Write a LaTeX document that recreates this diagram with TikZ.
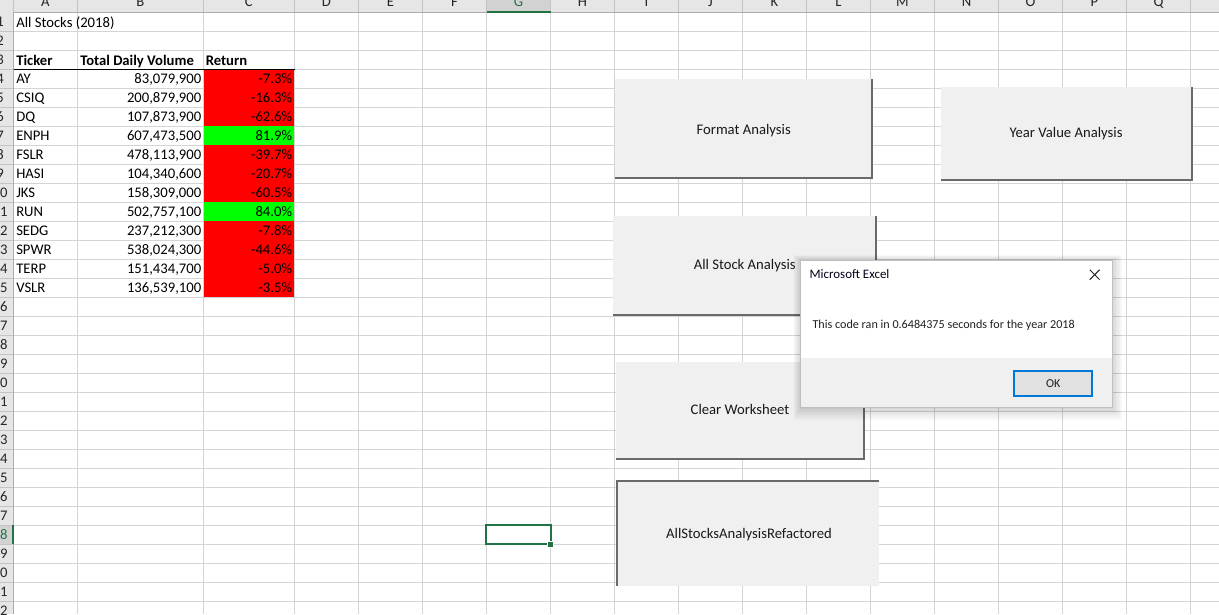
\documentclass[tikz,border=0pt]{standalone}
\usepackage{fontspec}
\setmainfont{Carlito}
\definecolor{gridc}{HTML}{D4D4D4}
\definecolor{hdrbg}{HTML}{E6E6E6}
\definecolor{hdrsel}{HTML}{D2D2D2}
\definecolor{hdrline}{HTML}{ABABAB}
\definecolor{xlgreen}{HTML}{217346}
\definecolor{btnbg}{HTML}{F0F0F0}
\definecolor{btnsh}{HTML}{6A6A6A}
\definecolor{okblue}{HTML}{0078D7}
\definecolor{okfill}{HTML}{E1E1E1}
\definecolor{negred}{HTML}{FF0000}
\definecolor{posgreen}{HTML}{00FF00}
\definecolor{dlgtext}{HTML}{202020}
\tikzset{
  celltxt/.style={inner sep=0pt, font=\fontsize{11}{13}\selectfont, text=black},
  lefttxt/.style={celltxt, anchor=base west},
  righttxt/.style={celltxt, anchor=base east},
  hdrtxt/.style={celltxt, anchor=base, text=black!85},
  btntxt/.style={celltxt, anchor=base, text=black!90},
  gridline/.style={draw=gridc, line width=0.75pt},
  btnshadow/.style={draw=btnsh, line width=1.5pt},
  dlgtxt/.style={inner sep=0pt, anchor=base west, text=dlgtext, font=\fontsize{9.1}{11}\selectfont},
}
\begin{document}
\begin{tikzpicture}[x=0.75pt,y=-0.75pt]
\useasboundingbox (0,0) rectangle (1219,614);
\clip (0,0) rectangle (1219,614);
\fill[white] (0,0) rectangle (1219,614);
% grid lines
\foreach \gx in {77.3,203.3,294.5,358.5,422.5,...,1254.5}
  \draw[gridline] (\gx,12.3) -- (\gx,614);
\foreach \n in {1,...,32}
  \draw[gridline] (13.3,12.3+19*\n) -- (1219,12.3+19*\n);
% colored return cells
\foreach \r/\c in {4/negred,5/negred,6/negred,7/posgreen,8/negred,9/negred,10/negred,11/posgreen,12/negred,13/negred,14/negred,15/negred}
  \fill[\c] (203.8,12.3+19*\r-19.5) rectangle (294.1,12.3+19*\r-0.3);
% header border under row 3
\draw[black, line width=0.75pt] (13.3,69.3) -- (294.5,69.3);
% texts
\node[lefttxt] (title) at (16,27) {All Stocks (2018)};
\node[lefttxt, font=\fontsize{11}{13}\selectfont\bfseries] (hA) at (16,65) {Ticker};
\node[lefttxt, font=\fontsize{11}{13}\selectfont\bfseries] (hB) at (80,65) {Total Daily Volume};
\node[lefttxt, font=\fontsize{11}{13}\selectfont\bfseries] (hC) at (205.5,65) {Return};
\foreach \r/\t/\v/\p in {4/AY/{83,079,900}/{-7.3\%},5/CSIQ/{200,879,900}/{-16.3\%},6/DQ/{107,873,900}/{-62.6\%},7/ENPH/{607,473,500}/{81.9\%},8/FSLR/{478,113,900}/{-39.7\%},9/HASI/{104,340,600}/{-20.7\%},10/JKS/{158,309,000}/{-60.5\%},11/RUN/{502,757,100}/{84.0\%},12/SEDG/{237,212,300}/{-7.8\%},13/SPWR/{538,024,300}/{-44.6\%},14/TERP/{151,434,700}/{-5.0\%},15/VSLR/{136,539,100}/{-3.5\%}}{
  \node[lefttxt] (tk\r) at (16,12.3+19*\r-4.5) {\t};
  \node[righttxt] (vol\r) at (201.5,12.3+19*\r-4.5) {\v};
  \node[righttxt] (ret\r) at (292.3,12.3+19*\r-4.5) {\p};
}
% column header row
\fill[hdrbg] (0,0) rectangle (1219,12.3);
\fill[hdrsel] (486.5,0) rectangle (550.5,12.3);
\foreach \gx in {13.3,77.3,203.3,294.5,358.5,422.5,...,1254.5}
  \draw[draw=hdrline!70, line width=0.75pt] (\gx,0) -- (\gx,12.3);
\draw[hdrline, line width=0.75pt] (0,12.3) -- (1219,12.3);
\draw[xlgreen, line width=1.5pt] (486.5,11.6) -- (550.5,11.6);
\foreach \L/\cx in {A/45.3,B/140.3,C/248.9,D/326.5,E/390.5,F/454.5,H/582.5,I/646.5,J/710.5,K/774.5,L/838.5,M/902.5,N/966.5,O/1030.5,P/1094.5,Q/1158.5}
  \node[hdrtxt] (col\L) at (\cx,6.5) {\L};
\node[hdrtxt, text=xlgreen] (colG) at (518.5,6.5) {G};
% row header column
\fill[hdrbg] (0,12.3) rectangle (13.3,614);
\fill[hdrsel] (0,525.3) rectangle (13.3,544.3);
\foreach \n in {1,...,32}
  \draw[draw=hdrline!70, line width=0.75pt] (0,12.3+19*\n) -- (13.3,12.3+19*\n);
\draw[hdrline, line width=0.75pt] (13.3,12.3) -- (13.3,614);
\draw[xlgreen, line width=1.5pt] (12.6,525.3) -- (12.6,544.3);
\foreach \n in {1,...,27,29,30,31,32}
  \node[hdrtxt] (row\n) at (0,12.3+19*\n-4.5) {\n};
\node[hdrtxt, text=xlgreen] (row28) at (0,12.3+19*28-4.5) {28};
% selected cell G28
\draw[xlgreen, line width=1.5pt] (486.2,525.2) rectangle (550.7,544.4);
\fill[white] (546.7,540.7) rectangle (553.7,547.7);
\fill[xlgreen] (547.7,541.7) rectangle (552.7,546.7);
% buttons
\fill[btnbg] (615,79.3) rectangle (872,178.3);
\draw[btnshadow] (872,79.3) -- (872,178.3) -- (615,178.3);
\node[btntxt] (fmt) at (743.7,134) {Format Analysis};
\fill[btnbg] (940.7,87.3) rectangle (1192,180);
\draw[btnshadow] (1192,87.3) -- (1192,180) -- (940.7,180);
\node[btntxt] (yva) at (1066,137.6) {Year Value Analysis};
\fill[btnbg] (613.3,216) rectangle (876,315);
\draw[btnshadow] (876,216) -- (876,315) -- (613.3,315);
\node[btntxt] (asa) at (744.7,269.8) {All Stock Analysis};
\fill[btnbg] (616,362) rectangle (864.3,459);
\draw[btnshadow] (864.3,362) -- (864.3,459) -- (616,459);
\node[btntxt] (clr) at (740,414.5) {Clear Worksheet};
\fill[btnbg] (617.3,480.7) rectangle (879.3,585.7);
\draw[btnshadow] (617.3,585.7) -- (617.3,480.7) -- (879.3,480.7);
\node[btntxt] (ref) at (749,538) {AllStocksAnalysisRefactored};
% dialog shadow
\foreach \k in {1,...,8}
  \fill[black, opacity=0.018] (800.7-\k*0.9,260-\k*0.6) rectangle (1112+\k*1.3,407.3+\k*1.6);
% dialog
\fill[white] (800.7,260) rectangle (1112,407.3);
\fill[btnbg] (800.7,357.7) rectangle (1112,407.3);
\draw[black!25, line width=0.5pt] (800.7,260) rectangle (1112,407.3);
\node[dlgtxt, font=\fontsize{9.7}{12}\selectfont, text=black!90!blue] (dtitle) at (809.3,278.5) {Microsoft Excel};
\coordinate (xa) at (1089.8,269.8);
\coordinate (xb) at (1099.6,279.6);
\coordinate (xc) at (1089.8,279.6);
\coordinate (xd) at (1099.6,269.8);
\draw[black!85, line width=0.75pt] (xa) -- (xb) (xc) -- (xd);
\node[dlgtxt] (dmsg) at (812.3,328) {This code ran in 0.6484375 seconds for the year 2018};
\draw[okblue, line width=1.5pt, fill=okfill] (1014.3,371.3) rectangle (1092.3,395.7);
\node[dlgtxt, anchor=base] (ok) at (1053.3,387.3) {OK};
\end{tikzpicture}
\end{document}
